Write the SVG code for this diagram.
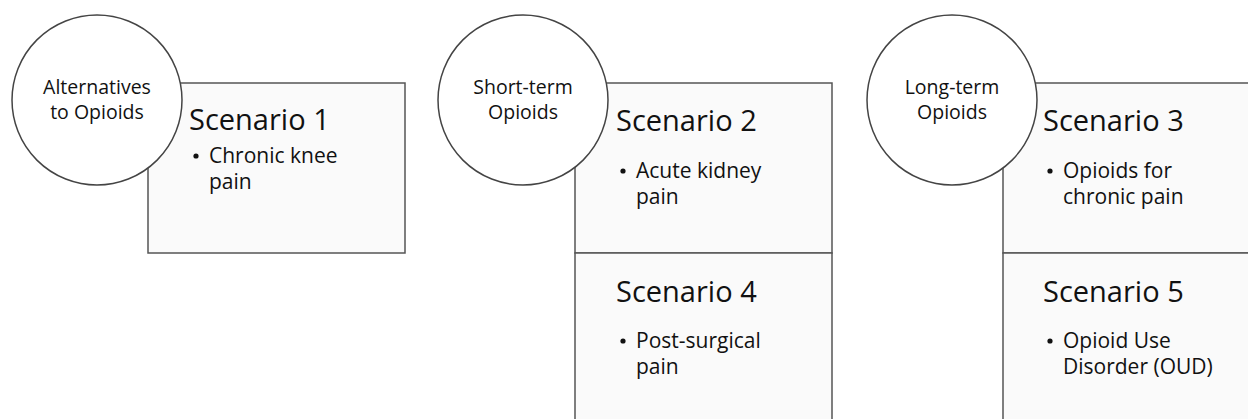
<svg xmlns="http://www.w3.org/2000/svg" width="1248" height="419" viewBox="0 0 1248 419">
<style>
.box{fill:#fafafa;stroke:#555;stroke-width:1.5}
.circ{fill:#fff;stroke:#444;stroke-width:1.5}
.t{font-family:"Open Sans","Noto Sans",sans-serif;fill:#111}
.ct{font-size:19.5px;text-anchor:middle}
.h{font-size:29px}
.b{font-size:21px}
.dot{fill:#111}
</style>
<rect width="1248" height="419" fill="#fff"/>
<g id="panel1">
<rect class="box" x="148" y="83" width="257" height="170"/>
<text class="t h" x="189" y="130">Scenario 1</text>
<circle class="dot" cx="196" cy="156" r="2.6"/>
<text class="t b" x="209" y="163">Chronic knee</text>
<text class="t b" x="209" y="189">pain</text>
</g>
<g id="circle1">
<circle class="circ" cx="97" cy="100" r="85"/>
<text class="t ct" x="97" y="94">Alternatives</text>
<text class="t ct" x="97" y="119">to Opioids</text>
</g>
<g id="panel2">
<rect class="box" x="575" y="83" width="257" height="170"/>
<text class="t h" x="616" y="131">Scenario 2</text>
<circle class="dot" cx="623" cy="171" r="2.6"/>
<text class="t b" x="636" y="178">Acute kidney</text>
<text class="t b" x="636" y="204">pain</text>
</g>
<g id="panel4">
<rect class="box" x="575" y="253" width="257" height="180"/>
<text class="t h" x="616" y="302">Scenario 4</text>
<circle class="dot" cx="623" cy="341" r="2.6"/>
<text class="t b" x="636" y="348">Post-surgical</text>
<text class="t b" x="636" y="374">pain</text>
</g>
<g id="circle2">
<circle class="circ" cx="523" cy="100" r="85"/>
<text class="t ct" x="523" y="94">Short-term</text>
<text class="t ct" x="523" y="119">Opioids</text>
</g>
<g id="panel3">
<rect class="box" x="1003" y="83" width="260" height="170"/>
<text class="t h" x="1043" y="131">Scenario 3</text>
<circle class="dot" cx="1050" cy="171" r="2.6"/>
<text class="t b" x="1063" y="178">Opioids for</text>
<text class="t b" x="1063" y="204">chronic pain</text>
</g>
<g id="panel5">
<rect class="box" x="1003" y="253" width="260" height="180"/>
<text class="t h" x="1043" y="302">Scenario 5</text>
<circle class="dot" cx="1050" cy="341" r="2.6"/>
<text class="t b" x="1063" y="348">Opioid Use</text>
<text class="t b" x="1063" y="374">Disorder (OUD)</text>
</g>
<g id="circle3">
<circle class="circ" cx="952" cy="100" r="85"/>
<text class="t ct" x="952" y="94">Long-term</text>
<text class="t ct" x="952" y="119">Opioids</text>
</g>
<g id="connectors"></g>
</svg>
